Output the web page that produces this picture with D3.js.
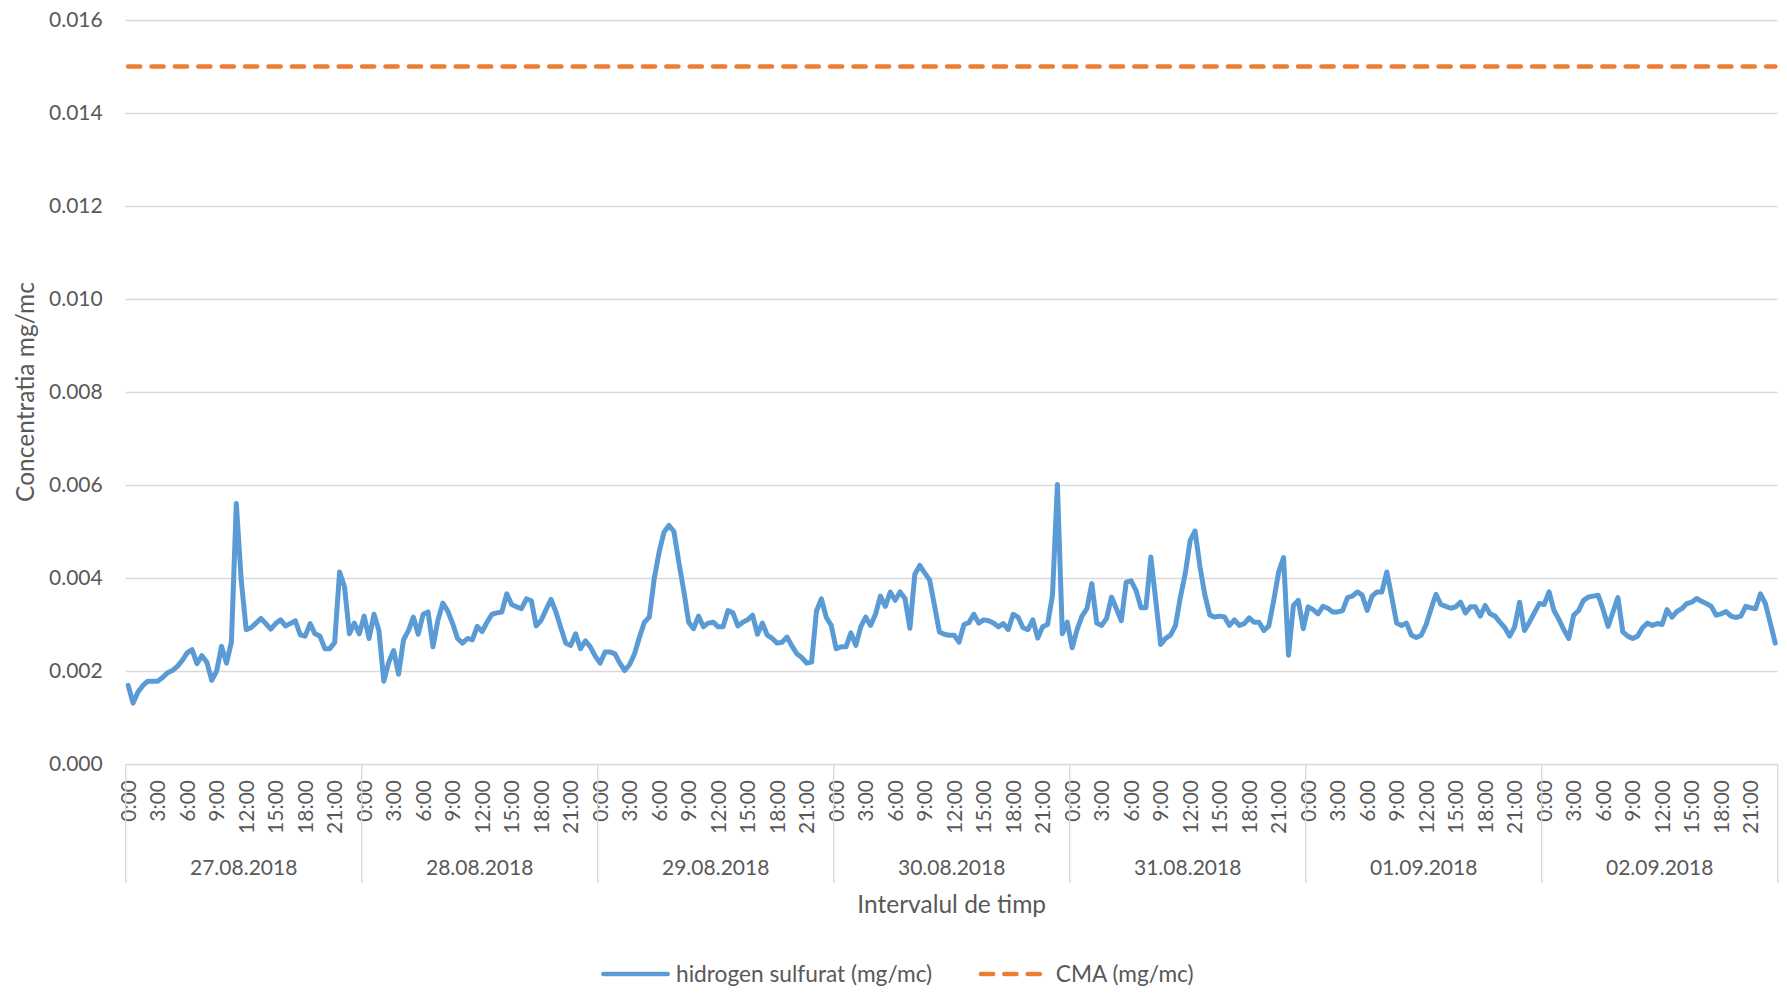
<!DOCTYPE html>
<html>
<head>
<meta charset="utf-8">
<script src="https://cdn.jsdelivr.net/npm/d3@7"></script>
<style>
  body { margin: 0; background: #fff; }
  text { font-family: Lato, "Open Sans", sans-serif; fill: #595959; }
</style>
</head>
<body>
<svg id="chart" width="1787" height="997"></svg>
<script>
// outer level of the x axis
const days = ['27.08.2018', '28.08.2018', '29.08.2018', '30.08.2018', '31.08.2018', '01.09.2018', '02.09.2018'];
// inner level labels, one every 3 hours
const hourLabels = ['0:00', '3:00', '6:00', '9:00', '12:00', '15:00', '18:00', '21:00'];
const yTicks = [0, 0.002, 0.004, 0.006, 0.008, 0.010, 0.012, 0.014, 0.016];

// hidrogen sulfurat, half-hour readings (48 per day), mg/mc
const day1 = [0.00169, 0.00131, 0.00155, 0.00169, 0.00178, 0.00178, 0.00178, 0.00186, 0.00196, 0.00201,
              0.00210, 0.00223, 0.00239, 0.00246, 0.00216, 0.00233, 0.00219, 0.00180, 0.00200, 0.00253,
              0.00217, 0.00262, 0.00560, 0.00395, 0.00289, 0.00293, 0.00303, 0.00313, 0.00302, 0.00290,
              0.00302, 0.00310, 0.00297, 0.00302, 0.00308, 0.00278, 0.00275, 0.00302, 0.00280, 0.00275,
              0.00248, 0.00248, 0.00261, 0.00413, 0.00381, 0.00280, 0.00303, 0.00280];
const day2 = [0.00318, 0.00270, 0.00322, 0.00287, 0.00178, 0.00219, 0.00244, 0.00193, 0.00267, 0.00287,
              0.00316, 0.00279, 0.00322, 0.00327, 0.00252, 0.00309, 0.00346, 0.00329, 0.00302, 0.00270,
              0.00260, 0.00270, 0.00267, 0.00296, 0.00285, 0.00305, 0.00322, 0.00325, 0.00327, 0.00366,
              0.00343, 0.00338, 0.00334, 0.00355, 0.00351, 0.00297, 0.00309, 0.00332, 0.00354, 0.00327,
              0.00293, 0.00260, 0.00255, 0.00280, 0.00248, 0.00265, 0.00252, 0.00232];
const day3 = [0.00217, 0.00241, 0.00241, 0.00237, 0.00217, 0.00201, 0.00214, 0.00237, 0.00273, 0.00305,
              0.00316, 0.00399, 0.00456, 0.00499, 0.00513, 0.00500, 0.00434, 0.00373, 0.00305, 0.00291,
              0.00318, 0.00295, 0.00303, 0.00305, 0.00295, 0.00295, 0.00330, 0.00325, 0.00297, 0.00305,
              0.00310, 0.00320, 0.00279, 0.00303, 0.00277, 0.00270, 0.00260, 0.00262, 0.00273, 0.00254,
              0.00237, 0.00229, 0.00217, 0.00219, 0.00329, 0.00355, 0.00315, 0.00298];
const day4 = [0.00248, 0.00252, 0.00252, 0.00282, 0.00255, 0.00295, 0.00316, 0.00298, 0.00322, 0.00361,
              0.00339, 0.00370, 0.00352, 0.00370, 0.00356, 0.00292, 0.00408, 0.00427, 0.00411, 0.00396,
              0.00341, 0.00284, 0.00279, 0.00277, 0.00277, 0.00262, 0.00300, 0.00304, 0.00322, 0.00303,
              0.00310, 0.00308, 0.00303, 0.00295, 0.00302, 0.00289, 0.00322, 0.00316, 0.00293, 0.00289,
              0.00310, 0.00271, 0.00295, 0.00300, 0.00363, 0.00601, 0.00280, 0.00305];
const day5 = [0.00250, 0.00289, 0.00318, 0.00334, 0.00388, 0.00303, 0.00298, 0.00313, 0.00359, 0.00334,
              0.00308, 0.00391, 0.00394, 0.00373, 0.00336, 0.00336, 0.00445, 0.00352, 0.00257, 0.00270,
              0.00277, 0.00297, 0.00358, 0.00409, 0.00481, 0.00501, 0.00424, 0.00363, 0.00320, 0.00316,
              0.00318, 0.00316, 0.00298, 0.00310, 0.00298, 0.00302, 0.00314, 0.00305, 0.00305, 0.00287,
              0.00297, 0.00352, 0.00413, 0.00444, 0.00234, 0.00341, 0.00352, 0.00291];
const day6 = [0.00338, 0.00332, 0.00323, 0.00339, 0.00335, 0.00327, 0.00327, 0.00330, 0.00358, 0.00361,
              0.00370, 0.00363, 0.00330, 0.00361, 0.00370, 0.00370, 0.00413, 0.00359, 0.00303, 0.00298,
              0.00303, 0.00277, 0.00272, 0.00277, 0.00300, 0.00334, 0.00365, 0.00343, 0.00339, 0.00335,
              0.00338, 0.00348, 0.00325, 0.00338, 0.00338, 0.00318, 0.00341, 0.00323, 0.00318, 0.00305,
              0.00293, 0.00275, 0.00295, 0.00348, 0.00287, 0.00305, 0.00325, 0.00345];
const day7 = [0.00343, 0.00370, 0.00330, 0.00311, 0.00289, 0.00270, 0.00320, 0.00330, 0.00352, 0.00359,
              0.00361, 0.00363, 0.00332, 0.00296, 0.00327, 0.00358, 0.00284, 0.00275, 0.00270, 0.00275,
              0.00293, 0.00303, 0.00298, 0.00302, 0.00300, 0.00332, 0.00316, 0.00328, 0.00334, 0.00345,
              0.00348, 0.00356, 0.00350, 0.00345, 0.00339, 0.00320, 0.00323, 0.00328, 0.00318, 0.00315,
              0.00318, 0.00339, 0.00336, 0.00334, 0.00366, 0.00345, 0.00303, 0.00260];
const cmaLimit = 0.015;

const h2s = [].concat(day1, day2, day3, day4, day5, day6, day7);
const idx = d3.range(h2s.length);
const perDay = h2s.length / days.length;

const blue = '#5b9bd5', orange = '#ed7d31', grid = '#d9d9d9';

const svg = d3.select('#chart');
const margin = {top: 20, right: 9.3, bottom: 233, left: 125.7};
const width = 1787 - margin.left - margin.right;
const height = 997 - margin.top - margin.bottom;
const g = svg.append('g').attr('transform', 'translate(' + margin.left + ',' + margin.top + ')');

const x = d3.scaleBand().domain(idx).range([0, width]);
const y = d3.scaleLinear().domain([0, 0.016]).range([height, 0]);
const cx = i => x(i) + x.bandwidth() / 2;

// gridlines + value labels
const yAxis = g.append('g')
    .call(d3.axisLeft(y).tickValues(yTicks).tickFormat(d3.format('.3f')).tickSize(-width).tickPadding(23));
yAxis.select('.domain').remove();
yAxis.selectAll('line').attr('stroke', grid).attr('stroke-width', 1.3);
yAxis.selectAll('text').style('font-size', '21px');

// hour labels (inner level)
const xAxis = g.append('g')
    .attr('transform', 'translate(0,' + height + ')')
    .call(d3.axisBottom(x)
        .tickValues(idx.filter(i => i % 6 === 0))
        .tickFormat(i => hourLabels[(i % perDay) / 6])
        .tickSize(0));
xAxis.select('.domain').remove();
xAxis.selectAll('text')
    .attr('transform', 'rotate(-90)')
    .attr('text-anchor', 'end')
    .attr('x', -16)
    .attr('y', 0)
    .attr('dy', '0.36em')
    .style('font-size', '21px');

// day separators and day labels (outer level)
const dayX = d => d < days.length ? x(d * perDay) : width;
g.selectAll('.sep').data(d3.range(days.length + 1)).join('line')
    .attr('class', 'sep')
    .attr('x1', dayX).attr('x2', dayX)
    .attr('y1', height).attr('y2', height + 119)
    .attr('stroke', grid).attr('stroke-width', 1.3);
g.selectAll('.day').data(days).join('text')
    .attr('class', 'day')
    .attr('x', (d, i) => (dayX(i) + dayX(i + 1)) / 2)
    .attr('y', height + 104)
    .attr('dy', '0.35em')
    .attr('text-anchor', 'middle')
    .style('font-size', '21px')
    .text(d => d);

// series
const line = d3.line().x((d, i) => cx(i)).y(d => y(d));
g.append('path').datum(h2s)
    .attr('d', line)
    .attr('fill', 'none')
    .attr('stroke', blue)
    .attr('stroke-width', 5)
    .attr('stroke-linejoin', 'round')
    .attr('stroke-linecap', 'round');
g.append('path').datum(idx.map(() => cmaLimit))
    .attr('d', line)
    .attr('fill', 'none')
    .attr('stroke', orange)
    .attr('stroke-width', 4.7)
    .attr('stroke-linecap', 'round')
    .attr('stroke-dasharray', '12,11.4');

// axis titles
svg.append('text')
    .attr('transform', 'translate(25,' + (margin.top + height / 2) + ') rotate(-90)')
    .attr('text-anchor', 'middle')
    .attr('dy', '0.35em')
    .style('font-size', '24.5px')
    .text('Concentratia mg/mc');
svg.append('text')
    .attr('x', margin.left + width / 2)
    .attr('y', 904)
    .attr('text-anchor', 'middle')
    .attr('dy', '0.35em')
    .style('font-size', '24.5px')
    .text('Intervalul de timp');

// legend
const legend = svg.append('g').attr('transform', 'translate(0,974)');
legend.append('line')
    .attr('x1', 603.4).attr('x2', 667.6)
    .attr('stroke', blue).attr('stroke-width', 4.7).attr('stroke-linecap', 'round');
legend.append('text')
    .attr('x', 676).attr('dy', '0.35em')
    .style('font-size', '22.7px')
    .text('hidrogen sulfurat (mg/mc)');
legend.append('line')
    .attr('x1', 981).attr('x2', 1040)
    .attr('stroke', orange).attr('stroke-width', 4.7).attr('stroke-linecap', 'round')
    .attr('stroke-dasharray', '12,11.4');
legend.append('text')
    .attr('x', 1055.8).attr('dy', '0.35em')
    .style('font-size', '22.7px')
    .text('CMA (mg/mc)');
</script>
</body>
</html>
